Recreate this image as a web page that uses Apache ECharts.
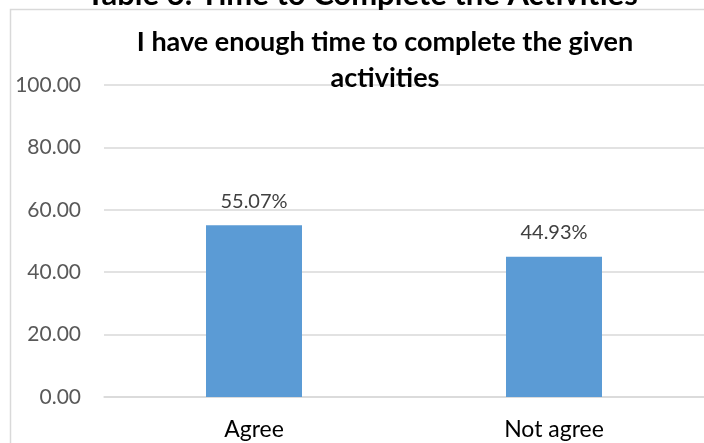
<!DOCTYPE html>
<html>
<head>
<meta charset="utf-8">
<script src="https://cdn.jsdelivr.net/npm/echarts@6/dist/echarts.min.js"></script>
<style>html,body{margin:0;padding:0;background:#fff}#c{width:704px;height:443px}</style>
</head>
<body>
<div id="c"></div>
<script>
const categories = ['Agree', 'Not agree'];
const values = [55.07, 44.93];
const tableTitle = 'Table 6: Time to Complete the Activities';
const chartTitle = 'I have enough time to complete the given\nactivities';

const chart = echarts.init(document.getElementById('c'), null, {renderer: 'canvas'});
chart.setOption({
  animation: false,
  backgroundColor: '#fff',
  graphic: [
    {type: 'rect', z: -10, shape: {x: 10.5, y: 9.5, width: 900, height: 600},
     style: {fill: 'none', stroke: '#d9d9d9', lineWidth: 1.5}},
    {type: 'text', z: 10, style: {text: tableTitle, x: 362, y: -5, textAlign: 'center', align: 'center',
      textVerticalAlign: 'middle', verticalAlign: 'middle', font: 'bold 31px Lato', fill: '#000'}},
    {type: 'text', z: 10, style: {text: chartTitle, x: 385, y: 24, textAlign: 'center', align: 'center',
      textVerticalAlign: 'top', verticalAlign: 'top', font: 'bold 27px Lato', lineHeight: 36, fill: '#000'}}
  ],
  grid: {left: 104, right: -8, top: 85, bottom: 46, containLabel: false},
  xAxis: {
    type: 'category', data: categories,
    axisLine: {lineStyle: {color: '#d9d9d9', width: 1.5}},
    axisTick: {show: false},
    axisLabel: {color: '#000', fontFamily: 'Lato', fontSize: 23, margin: 21}
  },
  yAxis: {
    type: 'value', min: 0, max: 100, interval: 20,
    axisLine: {show: false}, axisTick: {show: false},
    splitLine: {lineStyle: {color: '#d9d9d9', width: 1.5}},
    axisLabel: {color: '#595959', fontFamily: 'Lato', fontSize: 21, margin: 23,
      formatter: v => v.toFixed(2)}
  },
  series: [{
    type: 'bar', data: values, barWidth: 96,
    itemStyle: {color: '#5b9bd5'},
    label: {show: true, position: 'top', distance: 14, color: '#404040', fontFamily: 'Lato', fontSize: 20,
      formatter: p => p.value.toFixed(2) + '%'}
  }]
});
</script>
</body>
</html>
